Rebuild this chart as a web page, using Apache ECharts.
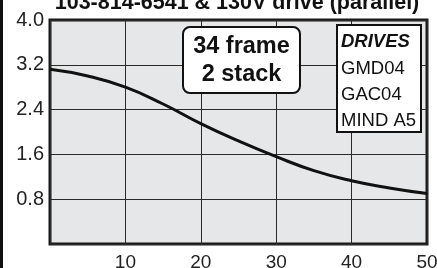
<!DOCTYPE html>
<html>
<head>
<meta charset="utf-8">
<script src="https://cdn.jsdelivr.net/npm/echarts@6/dist/echarts.min.js"></script>
<style>
  html, body { margin: 0; padding: 0; background: #fff; }
  #chart { width: 437px; height: 268px; }
</style>
</head>
<body>
<div id="chart"></div>
<script>
  // speed (x) vs torque (y)
  var speeds = [0, 5, 10, 15, 20, 25, 30, 35, 40, 45, 50];
  var torque = [3.12, 3.0, 2.8, 2.5, 2.15, 1.84, 1.56, 1.31, 1.13, 1.0, 0.9];
  var titleText = '103-814-6541 & 130V drive (parallel)';
  var motorLines = ['34 frame', '2 stack'];
  var driveLines = ['GMD04', 'GAC04', 'MIND A5'];

  var font = '"Liberation Sans", Arial, sans-serif';
  var chart = echarts.init(document.getElementById('chart'));

  var points = speeds.map(function (s, i) { return [s, torque[i]]; });

  var option = {
    animation: false,
    grid: {
      left: 50, right: 10, top: 20, bottom: 24,
      outerBoundsMode: 'none',
      show: true,
      backgroundColor: '#e6e7e8',
      borderColor: '#1a1a1a',
      borderWidth: 3
    },
    xAxis: {
      type: 'value', min: 0, max: 50, interval: 10,
      axisLine: { show: false },
      axisTick: { show: false },
      splitLine: { lineStyle: { color: '#2a2a2a', width: 1 } },
      axisLabel: {
        showMinLabel: false, color: '#222', fontFamily: font, fontSize: 19, margin: 9
      }
    },
    yAxis: {
      type: 'value', min: 0, max: 4, interval: 0.8,
      axisLine: { show: false },
      axisTick: { show: false },
      splitLine: { lineStyle: { color: '#2a2a2a', width: 1 } },
      axisLabel: {
        showMinLabel: false, color: '#222', fontFamily: font, fontSize: 20, margin: 6,
        formatter: function (v) { return v.toFixed(1); }
      }
    },
    series: [{
      type: 'line',
      data: points,
      smooth: true,
      symbol: 'none',
      lineStyle: { color: '#111', width: 3 }
    }],
    graphic: [
      // page border on the left
      { type: 'rect', shape: { x: 0, y: 0, width: 3, height: 268 }, style: { fill: '#111' } },
      {
        type: 'text', x: 237, y: 14, z: 10,
        style: {
          text: titleText, font: 'bold 21.5px ' + font, fill: '#111',
          align: 'center', verticalAlign: 'bottom'
        }
      },
      {
        type: 'rect', z: 10,
        shape: { x: 183, y: 27, width: 117, height: 66, r: 7 },
        style: { fill: '#fff', stroke: '#111', lineWidth: 2 }
      },
      {
        type: 'text', z: 11, x: 241.5, y: 61,
        style: {
          text: motorLines.join('\n'), font: 'bold 23.5px ' + font, fill: '#111',
          align: 'center', verticalAlign: 'middle', lineHeight: 28
        }
      },
      {
        type: 'rect', z: 10,
        shape: { x: 337, y: 25, width: 84, height: 107 },
        style: { fill: '#fff', stroke: '#111', lineWidth: 2 }
      },
      {
        type: 'text', z: 11, x: 341, y: 32,
        style: { text: 'DRIVES', font: 'italic bold 18.5px ' + font, fill: '#111' }
      },
      {
        type: 'text', z: 11, x: 341, y: 56,
        style: {
          text: driveLines.join('\n'), font: '18.5px ' + font, fill: '#111', lineHeight: 26
        }
      }
    ]
  };

  chart.setOption(option);
</script>
</body>
</html>
